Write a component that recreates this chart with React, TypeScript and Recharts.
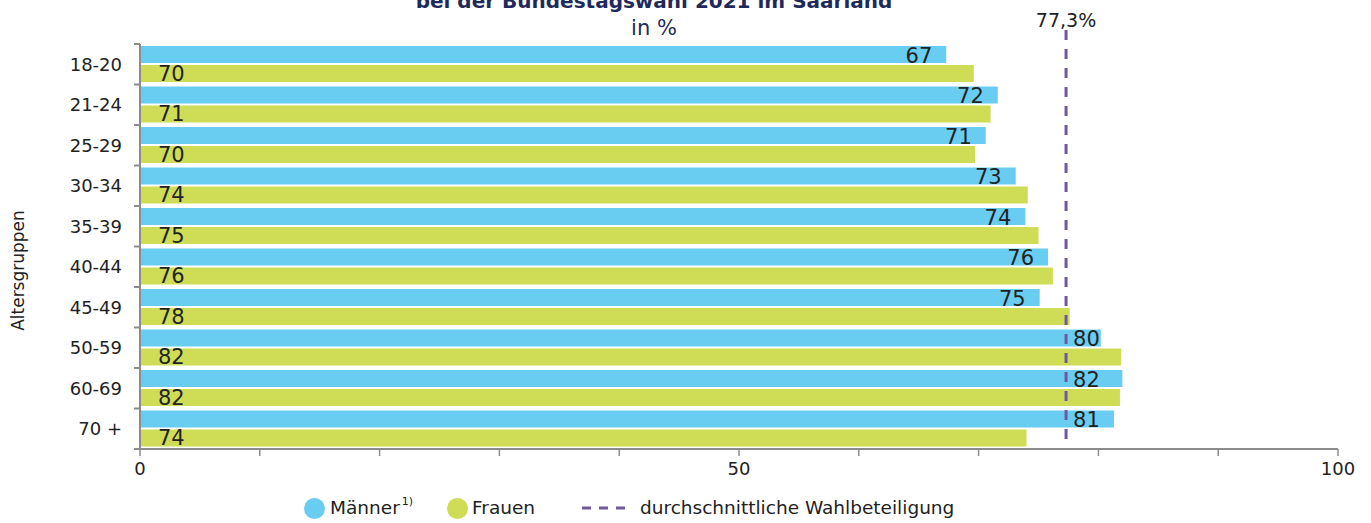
import React from 'react'
import { Bar, BarChart, LabelList, Legend, ReferenceLine, XAxis, YAxis } from 'recharts'

const ageGroups = ['18-20', '21-24', '25-29', '30-34', '35-39', '40-44', '45-49', '50-59', '60-69', '70 +']
const maenner = [67.3, 71.6, 70.6, 73.1, 73.9, 75.8, 75.1, 80.2, 82.0, 81.3]
const frauen = [69.6, 71.0, 69.7, 74.1, 75.0, 76.2, 77.6, 81.9, 81.8, 74.0]
const avgTurnout = 77.3
const xTicks = [0, 10, 20, 30, 40, 50, 60, 70, 80, 90, 100]
const xTickLabels = [0, 50, 100]

const data = ageGroups.map((age, i) => ({ age, maenner: maenner[i], frauen: frauen[i] }))

const W = 1371
const H = 523
const TOP = 44
const PLOT_H = 405
const band = PLOT_H / ageGroups.length

const BLUE = '#69cdf2'
const GREEN = '#cfdd56'
const PURPLE = '#6f58a0'
const AXIS = '#8c8c8c'
const TEXT = '#222'
const NAVY = '#1f2a5c'
const FONT = '"DejaVu Sans", Verdana, sans-serif'

const AgeTick = (props: any) => {
  const { x, y, payload, index } = props
  return (
    <g>
      {index === 0 && <line x1={x - 6} x2={x} y1={y - band / 2} y2={y - band / 2} stroke={AXIS} strokeWidth={2} />}
      <line x1={x - 6} x2={x} y1={y + band / 2} y2={y + band / 2} stroke={AXIS} strokeWidth={2} />
      <text x={x - 18} y={y} textAnchor="end" dominantBaseline="central" fontSize={18} fill={TEXT} fontFamily={FONT}>
        {payload.value}
      </text>
    </g>
  )
}

const MaleLabel = (props: any) => {
  const vb = props.viewBox && props.viewBox.width !== undefined ? props.viewBox : props
  const { x, y, width, height } = vb
  const value = Number(props.value)
  const lineX = x + (width * avgTurnout) / value
  const pastLine = value > avgTurnout + 1.5
  return (
    <text
      x={pastLine ? lineX + 7 : x + width - 14}
      y={y + height / 2 + 1}
      textAnchor={pastLine ? 'start' : 'end'}
      dominantBaseline="central"
      fontSize={21}
      fill={TEXT}
      fontFamily={FONT}
    >
      {Math.round(value)}
    </text>
  )
}

const LegendBox = () => (
  <div style={{ position: 'relative', width: W, height: 30, fontFamily: FONT, fontSize: 18.5, color: TEXT }}>
    <div style={{ position: 'absolute', left: 304, top: 5, width: 21, height: 21, borderRadius: '50%', background: BLUE }} />
    <div style={{ position: 'absolute', left: 330, top: 3, lineHeight: '24px' }}>
      Männer<sup style={{ fontSize: 11, verticalAlign: 'top', lineHeight: '12px', marginLeft: 2 }}>1)</sup>
    </div>
    <div style={{ position: 'absolute', left: 447, top: 5, width: 21, height: 21, borderRadius: '50%', background: GREEN }} />
    <div style={{ position: 'absolute', left: 472, top: 3, lineHeight: '24px' }}>Frauen</div>
    <svg style={{ position: 'absolute', left: 582, top: 4 }} width={44} height={22}>
      <line x1={0} x2={44} y1={11} y2={11} stroke={PURPLE} strokeWidth={3} strokeDasharray="9 8" />
    </svg>
    <div style={{ position: 'absolute', left: 640, top: 3, lineHeight: '24px' }}>durchschnittliche Wahlbeteiligung</div>
  </div>
)

const App = () => {
  return (
    <div style={{ position: 'relative', width: W, height: H, fontFamily: FONT }}>
      <style>{'body{margin:0}'}</style>
      <div style={{ position: 'absolute', top: -9, left: 0, width: 1308, textAlign: 'center', fontWeight: 'bold', fontSize: 20, lineHeight: '20px', color: NAVY }}>
        bei der Bundestagswahl 2021 im Saarland
      </div>
      <div style={{ position: 'absolute', top: 17, left: 0, width: 1308, textAlign: 'center', fontSize: 21, lineHeight: '22px', color: NAVY }}>
        in %
      </div>
      <BarChart
        width={W}
        height={H}
        data={data}
        layout="vertical"
        margin={{ top: TOP, right: 33, bottom: 0, left: 0 }}
        barCategoryGap={2}
        barGap={2}
      >
        <XAxis
          type="number"
          domain={[0, 100]}
          ticks={xTicks}
          interval={0}
          tickFormatter={(v: number) => (xTickLabels.includes(v) ? String(v) : '')}
          axisLine={{ stroke: AXIS, strokeWidth: 2 }}
          tickLine={{ stroke: AXIS, strokeWidth: 1.5 }}
          tickSize={7}
          tickMargin={6}
          tick={{ fontSize: 18, fill: TEXT, fontFamily: FONT }}
          height={44}
        />
        <YAxis
          type="category"
          dataKey="age"
          width={140}
          interval={0}
          axisLine={{ stroke: AXIS, strokeWidth: 2 }}
          tickLine={false}
          tickSize={0}
          tickMargin={0}
          tick={(p: any) => <AgeTick {...p} />}
          label={{
            content: (p: any) => {
              const vb = p.viewBox
              const cy = vb.y + vb.height / 2 + 24
              return (
                <text x={18} y={cy} transform={`rotate(-90 18 ${cy})`} textAnchor="middle" dominantBaseline="central" fontSize={17} fill={TEXT} fontFamily={FONT}>
                  Altersgruppen
                </text>
              )
            },
          }}
        />
        <Legend verticalAlign="bottom" content={() => <LegendBox />} wrapperStyle={{ left: 0, bottom: 0, width: W }} />
        <Bar dataKey="maenner" name="Männer" fill={BLUE} isAnimationActive={false}>
          <LabelList dataKey="maenner" content={(p: any) => <MaleLabel {...p} />} />
        </Bar>
        <Bar dataKey="frauen" name="Frauen" fill={GREEN} isAnimationActive={false}>
          <LabelList
            dataKey="frauen"
            position="insideLeft"
            offset={18}
            formatter={(v: any) => Math.round(Number(v))}
            style={{ fontSize: 21, fill: TEXT, fontFamily: FONT }}
          />
        </Bar>
        <ReferenceLine
          x={avgTurnout}
          stroke={PURPLE}
          strokeWidth={3}
          strokeDasharray="10 9"
          shape={(p: any) => (
            <line
              x1={p.x1}
              x2={p.x2}
              y1={Math.min(p.y1, p.y2) - 14}
              y2={Math.max(p.y1, p.y2)}
              stroke={PURPLE}
              strokeWidth={3}
              strokeDasharray="10 9"
            />
          )}
          label={{ value: '77,3%', position: 'top', offset: 17, fontSize: 19, fill: TEXT, fontFamily: FONT }}
        />
      </BarChart>
    </div>
  )
}

export default App
